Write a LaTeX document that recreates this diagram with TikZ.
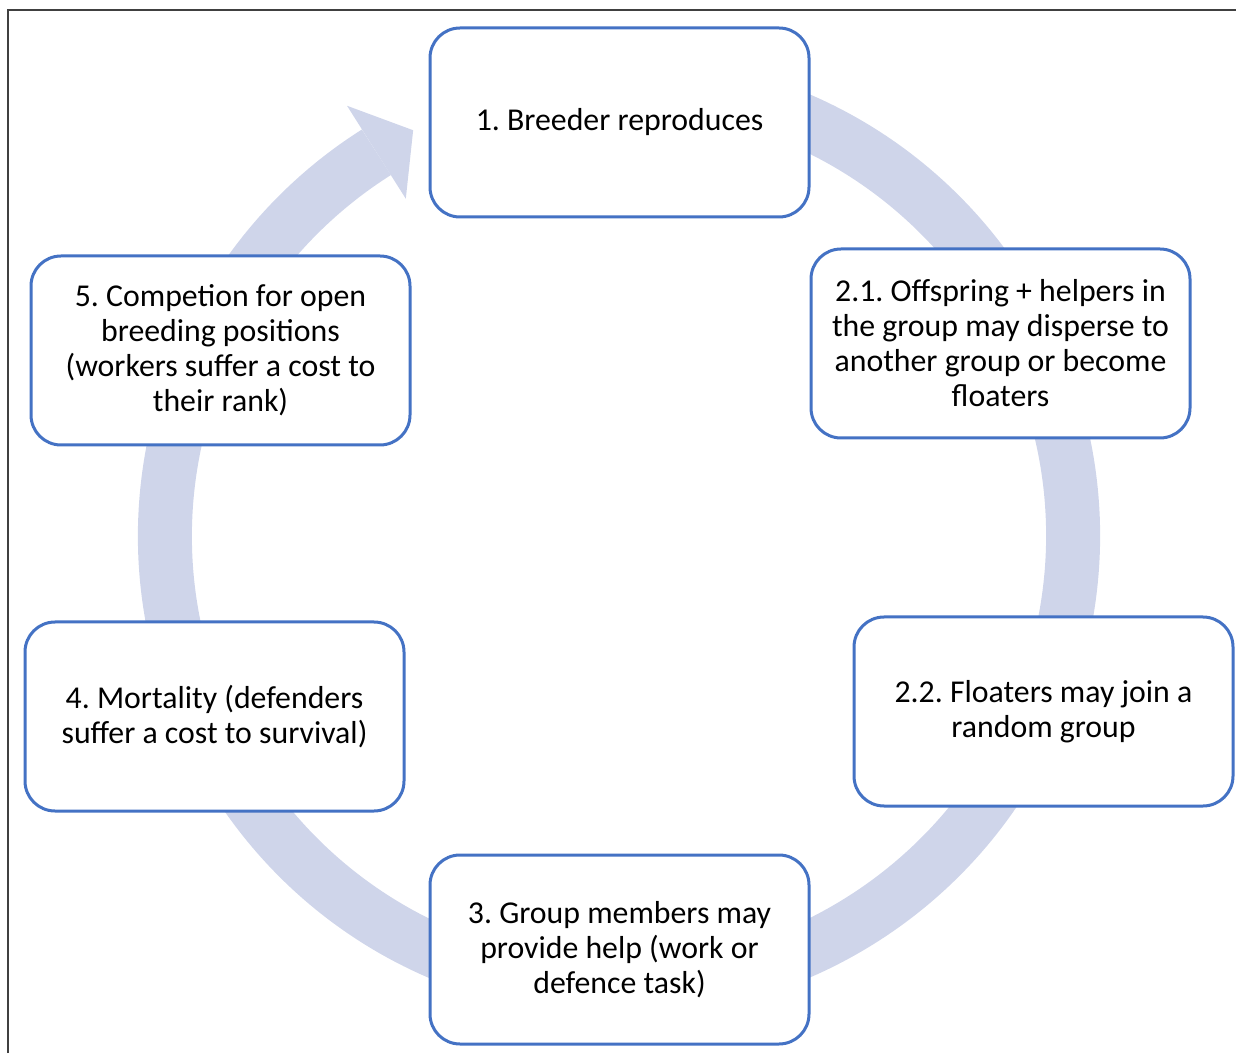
\documentclass[tikz,border=0pt]{standalone}
\usepackage{fontspec}
\setmainfont{Carlito}
\usetikzlibrary{calc}
\definecolor{boxblue}{HTML}{4472C4}
\definecolor{ringfill}{HTML}{CFD5EA}
\definecolor{framegray}{HTML}{404040}
\begin{document}
\frenchspacing
\begin{tikzpicture}[x=1pt,y=1pt,
  stagebox/.style={draw=boxblue, line width=3pt, fill=white, rounded corners=30pt,
    minimum width=379pt, minimum height=189pt, inner sep=0pt, align=center,
    font=\fontsize{31.8pt}{35pt}\selectfont},
  ring/.style={draw=ringfill, line width=54pt}]
\useasboundingbox (0,0) rectangle (1236,1053);
\draw[framegray, line width=1.5pt] (8,0) -- (8,1043) -- (1236,1043);
\coordinate (c) at (619,517);
% cycle ring with arrowhead
\draw[ring] ($(c)+(75:454)$) arc[start angle=75, end angle=-237.7, radius=454];
\fill[ringfill] ($(c)+(122.3:509)$) -- ($(c)+(116.9:455)$) -- ($(c)+(122.3:399)$) -- cycle;
% stages
\node[stagebox] (s1) at (619.5,930.5) {1. Breeder reproduces};
\node[stagebox] (s21) at (1000.5,709.5) {2.1. Offspring + helpers in\\the group may disperse to\\another group or become\\floaters};
\node[stagebox] (s22) at (1043.5,341.5) {2.2. Floaters may join a\\random group};
\node[stagebox] (s3) at (619.5,103.5) {3. Group members may\\provide help (work or\\defence task)};
\node[stagebox] (s4) at (214.5,336.5) {4. Mortality (defenders\\suffer a cost to survival)};
\node[stagebox] (s5) at (220.5,702.5) {5. Competion for open\\breeding positions\\(workers suffer a cost to\\their rank)};
\end{tikzpicture}
\end{document}
